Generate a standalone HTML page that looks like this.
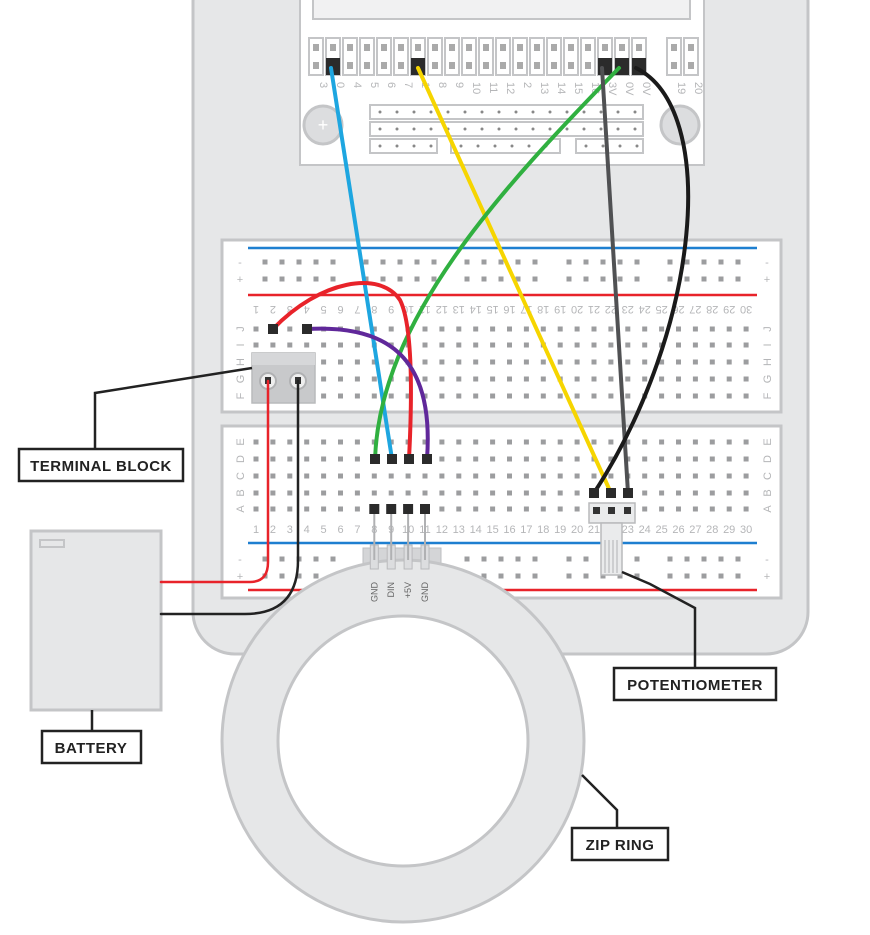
<!DOCTYPE html>
<html><head><meta charset="utf-8"><style>
html,body{margin:0;padding:0;background:#fff;}
svg{display:block;}
.lbl{font-family:"Liberation Sans",sans-serif;font-weight:bold;font-size:15px;fill:#222;letter-spacing:0.5px;}
.num{font-family:"Liberation Sans",sans-serif;font-size:11px;fill:#b5b6b8;}
</style></head><body>
<svg id="s" width="870" height="935" viewBox="0 0 870 935" xmlns="http://www.w3.org/2000/svg">
<rect x="193" y="-40" width="615" height="694" rx="42" fill="#e6e7e8" stroke="#c4c5c7" stroke-width="3"/>
<g>
<rect x="300" y="-5" width="404" height="170" fill="#fff" stroke="#c4c5c7" stroke-width="2"/>
<rect x="313" y="-5" width="377" height="24" fill="#f1f1f2" stroke="#c4c5c7" stroke-width="2"/>
<g id="pins"></g>
<circle cx="323" cy="125" r="19" fill="#dcdddf" stroke="#c4c5c7" stroke-width="3"/>
<text x="323" y="131" text-anchor="middle" font-family="Liberation Sans" font-size="18" fill="#fff">+</text>
<circle cx="680" cy="125" r="19" fill="#dcdddf" stroke="#c4c5c7" stroke-width="3"/>
<g id="strips"></g>
</g>
<g>
<rect x="222" y="240" width="559" height="172" fill="#fff" stroke="#c4c5c7" stroke-width="3"/>
<line x1="248" y1="248" x2="757" y2="248" stroke="#1e7fd0" stroke-width="2.5"/>
<line x1="248" y1="295" x2="757" y2="295" stroke="#e8232a" stroke-width="2.5"/>
</g>
<g>
<rect x="222" y="426" width="559" height="172" fill="#fff" stroke="#c4c5c7" stroke-width="3"/>
<line x1="248" y1="543" x2="757" y2="543" stroke="#1e7fd0" stroke-width="2.5"/>
<line x1="248" y1="590" x2="757" y2="590" stroke="#e8232a" stroke-width="2.5"/>
</g>
<g id="holes"></g>
<g>
<rect x="252" y="353" width="63" height="50" fill="#c8c9cb" stroke="#b9babc" stroke-width="1.5"/>
<rect x="252" y="353" width="63" height="12" fill="#d6d7d9"/>
<circle cx="268" cy="381" r="8" fill="#eee" stroke="#b0b1b3" stroke-width="2"/>
<circle cx="298" cy="381" r="8" fill="#eee" stroke="#b0b1b3" stroke-width="2"/>
<rect x="265" y="377" width="6" height="7" fill="#333"/><rect x="295" y="377" width="6" height="7" fill="#333"/>
</g>
<g>
<rect x="363" y="548" width="78" height="18" fill="#d4d5d7" stroke="#bdbec0"/>
</g>
<g>
<circle cx="403" cy="741" r="153" fill="none" stroke="#e6e7e8" stroke-width="56"/>
<circle cx="403" cy="741" r="181" fill="none" stroke="#c4c5c7" stroke-width="3"/>
<circle cx="403" cy="741" r="125" fill="#fff" stroke="#c4c5c7" stroke-width="3"/>
</g>
<g id="hdr"></g>
<g>
<rect x="589" y="503" width="46" height="20" fill="#eaebec" stroke="#b9babc" stroke-width="1.5"/>
<rect x="601" y="523" width="21" height="52" fill="#eaebec" stroke="#b9babc" stroke-width="1.5"/>
<path d="M605 540V573M609 540V573M613 540V573M617 540V573" stroke="#b0b1b3"/>
<rect x="593" y="507" width="7" height="7" fill="#333"/><rect x="608" y="507" width="7" height="7" fill="#333"/><rect x="624" y="507" width="7" height="7" fill="#333"/>
</g>
<g>
<rect x="31" y="531" width="130" height="179" fill="#e6e7e8" stroke="#c4c5c7" stroke-width="3"/>
<rect x="40" y="540" width="24" height="7" fill="#e6e7e8" stroke="#c4c5c7" stroke-width="2"/>
</g>
<g fill="none" stroke-linecap="round">
<path d="M161 582H250Q268 582 268 562V381" stroke="#e8232a" stroke-width="2.5"/>
<path d="M161 614H245Q298 614 298 560V381" stroke="#222" stroke-width="2.5"/>
<path d="M331 68L392 459" stroke="#1ea6e0" stroke-width="4"/>
<path d="M418 68L611 493" stroke="#f6d500" stroke-width="4"/>
<path d="M619 68C500 190 380 320 375 459" stroke="#30b040" stroke-width="4"/>
<path d="M602 68L628 493" stroke="#505153" stroke-width="4"/>
<path d="M636 68C720 110 700 330 594 493" stroke="#1a1a1a" stroke-width="4"/>
<path d="M273 329C320 280 380 270 400 300C415 330 411 420 409 459" stroke="#e8232a" stroke-width="4"/>
<path d="M307 329C380 325 435 350 427 459" stroke="#60289a" stroke-width="4"/>
</g>
<g id="ends"></g>
<g fill="none" stroke="#222" stroke-width="2.5">
<path d="M95 449V393L252 368"/><path d="M92 731V710"/><path d="M695 668V608L650 584L622 572"/><path d="M617 828V810L582 775"/>
</g>
<g><rect x="19" y="449" width="164" height="32" fill="#fff" stroke="#222" stroke-width="2.5"/><text class="lbl" x="101" y="471" text-anchor="middle">TERMINAL BLOCK</text></g>
<g><rect x="42" y="731" width="99" height="32" fill="#fff" stroke="#222" stroke-width="2.5"/><text class="lbl" x="91" y="753" text-anchor="middle">BATTERY</text></g>
<g><rect x="614" y="668" width="162" height="32" fill="#fff" stroke="#222" stroke-width="2.5"/><text class="lbl" x="695" y="690" text-anchor="middle">POTENTIOMETER</text></g>
<g><rect x="572" y="828" width="96" height="32" fill="#fff" stroke="#222" stroke-width="2.5"/><text class="lbl" x="620" y="850" text-anchor="middle">ZIP RING</text></g>
</svg>
<script>
const NS="http://www.w3.org/2000/svg";
function mk(p,t,a){const e=document.createElementNS(NS,t);for(const k in a)e.setAttribute(k,a[k]);p.appendChild(e);return e;}
const pinLabels=["3","0","4","5","6","7","1","8","9","10","11","12","2","13","14","15","16","3V","0V","0V"];
const blackPins=[1,6,17,18,19];
const pins=document.getElementById('pins');
for(let i=0;i<22;i++){
  const x=i<20?309+17*i:667+17*(i-20);
  const r=mk(pins,'rect',{x:x,y:38,width:14,height:37,fill:'#fff',stroke:'#c4c5c7','stroke-width':2});
  
  
  mk(pins,'rect',{x:x+4,y:44,width:6,height:7,fill:'#aaa'});
  mk(pins,'rect',{x:x+4,y:62,width:6,height:7,fill:'#aaa'});
  if(blackPins.includes(i)) mk(pins,'rect',{x:x,y:58,width:14,height:17,fill:'#2b2b2b'});
  const lab=i<20?pinLabels[i]:String(i-1);
  const t=mk(pins,'text',{x:x+11,y:82,class:'num',transform:`rotate(90 ${x+11} 82)`});t.textContent=lab;
}
const strips=document.getElementById('strips');
[[370,105,273],[370,122,273],[370,139,67],[451,139,109],[576,139,67]].forEach(([x,y,w])=>{
  mk(strips,'rect',{x:x,y:y,width:w,height:14,fill:'#fff',stroke:'#c4c5c7','stroke-width':2});
  for(let hx=x+10;hx<x+w-4;hx+=17) mk(strips,'circle',{cx:hx,cy:y+7,r:1.5,fill:'#888'});
});
const holes=document.getElementById('holes');
const colX=c=>256+16.9*(c-1);
function hole(x,y){mk(holes,'rect',{x:x-2.5,y:y-2.5,width:5,height:5,fill:'#9c9d9f'});}
const topRows=[329,345,362,379,396],botRows=[442,459,476,493,509];
for(let c=1;c<=30;c++){
  topRows.forEach(y=>hole(colX(c),y));botRows.forEach(y=>hole(colX(c),y));
  const t1=mk(holes,'text',{x:colX(c),y:318,class:'num','text-anchor':'middle',transform:`rotate(180 ${colX(c)} 312)`});t1.textContent=c;
  const t2=mk(holes,'text',{x:colX(c),y:533,class:'num','text-anchor':'middle'});t2.textContent=c;
}
[265,366,467,569,670].forEach(g=>{for(let k=0;k<5;k++){[262,279,559,576].forEach(y=>hole(g+17*k,y));}});
const L=["J","I","H","G","F"],L2=["E","D","C","B","A"];
topRows.forEach((y,i)=>{[240,767].forEach(x=>{const t=mk(holes,'text',{x:x,y:y+4,class:'num','text-anchor':'middle',transform:`rotate(-90 ${x} ${y})`});t.textContent=L[i];});});
botRows.forEach((y,i)=>{[240,767].forEach(x=>{const t=mk(holes,'text',{x:x,y:y+4,class:'num','text-anchor':'middle',transform:`rotate(-90 ${x} ${y})`});t.textContent=L2[i];});});
[262,559].forEach(y=>[240,767].forEach(x=>{const t=mk(holes,'text',{x:x,y:y+4,class:'num','text-anchor':'middle'});t.textContent='-';}));
[279,576].forEach(y=>[240,767].forEach(x=>{const t=mk(holes,'text',{x:x,y:y+4,class:'num','text-anchor':'middle'});t.textContent='+';}));
const hdr=document.getElementById('hdr');
const hdrLabels=["GND","DIN","+5V","GND"];
hdrLabels.forEach((lb,i)=>{const x=colX(8+i);
  mk(hdr,'rect',{x:x-4,y:545,width:8,height:24,fill:'#dcdddf',stroke:'#b9babc'});
  mk(hdr,'line',{x1:x,y1:512,x2:x,y2:560,stroke:'#b0b1b3','stroke-width':2});
  mk(hdr,'rect',{x:x-5,y:504,width:10,height:10,fill:'#2b2b2b'});
  const t=mk(hdr,'text',{x:x+3,y:582,class:'num',fill:'#666','font-size':'9',transform:`rotate(-90 ${x+3} 582)`,'text-anchor':'end'});t.setAttribute('style','fill:#666;font-size:9px');t.textContent=lb;});
const ends=document.getElementById('ends');
[[273,329],[307,329],[375,459],[392,459],[409,459],[427,459],[594,493],[611,493],[628,493]].forEach(([x,y])=>mk(ends,'rect',{x:x-5,y:y-5,width:10,height:10,fill:'#2b2b2b'}));
</script>
</body></html>
